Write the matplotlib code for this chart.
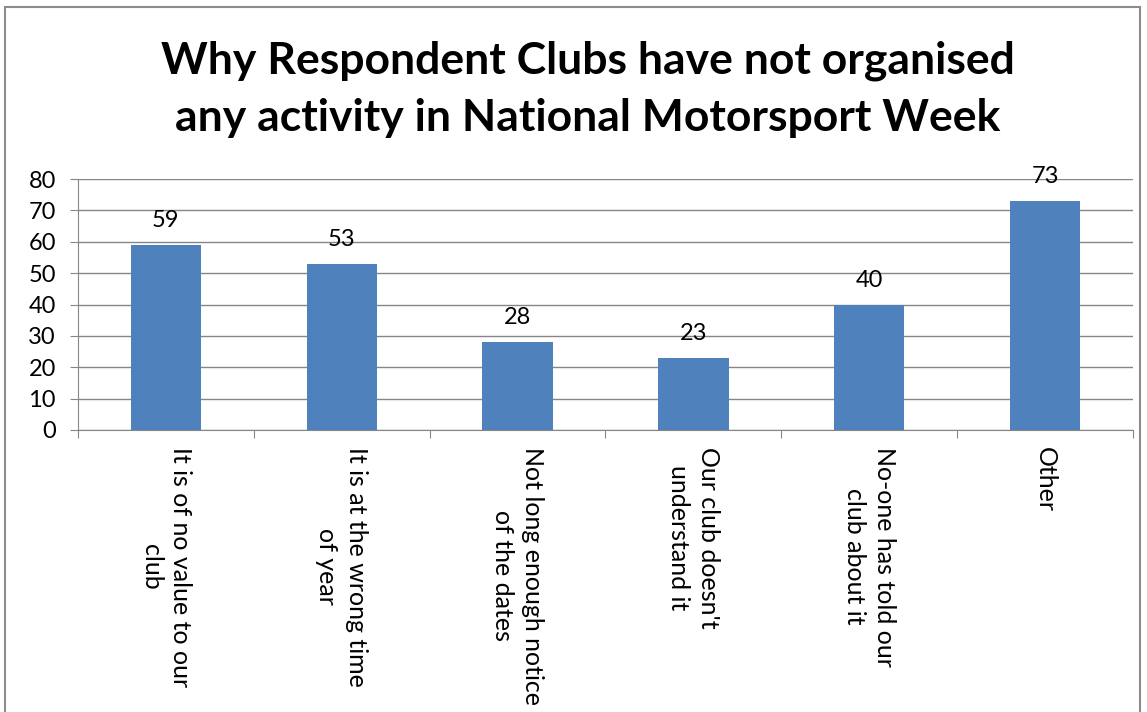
import numpy as np
import matplotlib.pyplot as plt
from matplotlib.patches import Rectangle

plt.rcParams['font.family'] = ['Lato', 'DejaVu Sans']

categories = ['It is of no value to our\nclub',
              'It is at the wrong time\nof year',
              'Not long enough notice\nof the dates',
              "Our club doesn't\nunderstand it",
              'No-one has told our\nclub about it',
              'Other']
counts = [59, 53, 28, 23, 40, 73]
yticks = [0, 10, 20, 30, 40, 50, 60, 70, 80]

bar_color = '#4F81BD'
grid_color = '#868686'

fig = plt.figure(figsize=(11.47, 7.12), dpi=100)
ax = fig.add_axes([78/1147, 1 - 430/712, (1133 - 78)/1147, (430 - 179)/712])

x = np.arange(len(categories))
bars = ax.bar(x, counts, width=0.4, color=bar_color, zorder=3)

for xi, v in zip(x, counts):
    ax.annotate(str(v), (xi, v), xytext=(0, 10), textcoords='offset points',
                ha='center', va='bottom', fontsize=17)

ax.set_xlim(-0.5, len(categories) - 0.5)
ax.set_ylim(0, 80)
ax.set_yticks(yticks)
ax.yaxis.grid(True, color=grid_color, lw=1, zorder=0)
ax.tick_params(axis='y', labelsize=17, length=6, color=grid_color, pad=10)

# boundaries get the tick marks, centres get the labels
ax.set_xticks(np.arange(-0.5, len(categories), 1.0))
ax.set_xticklabels([])
ax.tick_params(axis='x', which='major', length=6, color=grid_color)
ax.set_xticks(x, minor=True)
ax.set_xticklabels(categories, minor=True, rotation=270, ha='center', va='top',
                   multialignment='center', fontsize=18, linespacing=1.35)
ax.tick_params(axis='x', which='minor', length=0, pad=12)

for s in ['top', 'right']:
    ax.spines[s].set_visible(False)
for s in ['left', 'bottom']:
    ax.spines[s].set_color(grid_color)

fig.text(588/1147, 1 - 89/712, 'Why Respondent Clubs have not organised\nany activity in National Motorsport Week',
         ha='center', va='center', fontsize=32, fontweight='bold', linespacing=1.5)

fig.patches.append(Rectangle((5/1147, -0.05), 1135/1147, 1.05 - 7/712, transform=fig.transFigure,
                             fill=False, edgecolor='#8c8c8c', lw=1.5))

fig.savefig('out.png', dpi=100)
